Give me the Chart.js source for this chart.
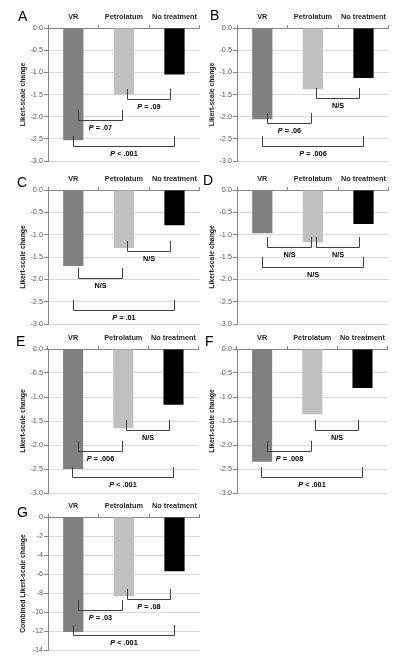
<!DOCTYPE html>
<html>
<head>
<meta charset="utf-8">
<script src="https://cdn.jsdelivr.net/npm/chart.js@4"></script>
<style>
  body { margin: 0; width: 400px; height: 658px; overflow: hidden; background: #fff; position: relative; font-family: "Liberation Sans", Arial, sans-serif; }
  canvas { position: absolute; }
  .letter { position: absolute; font-size: 14px; line-height: 14px; color: #000; }
</style>
</head>
<body>
<script>
// Data
let categories = ["VR", "Petrolatum", "No treatment"];
let barColors = ["#808080", "#c0c0c0", "#000000"];

let valuesA = [-2.53, -1.50, -1.05];
let valuesB = [-2.06, -1.38, -1.13];
let valuesC = [-1.70, -1.30, -0.79];
let valuesD = [-0.97, -1.17, -0.76];
let valuesE = [-2.50, -1.65, -1.16];
let valuesF = [-2.35, -1.36, -0.81];
let valuesG = [-12.1, -8.35, -5.7];

// brackets: [from, to, level, label]
let bracketsA = [[0, 1, -2.07, "P = .07"], [1, 2, -1.60, "P = .09"], [0, 2, -2.66, "P < .001"]];
let bracketsB = [[0, 1, -2.14, "P = .06"], [1, 2, -1.58, "N/S"], [0, 2, -2.66, "P = .006"]];
let bracketsC = [[0, 1, -1.96, "N/S"], [1, 2, -1.36, "N/S"], [0, 2, -2.68, "P = .01"]];
let bracketsD = [[0, 1, -1.28, "N/S"], [1, 2, -1.28, "N/S"], [0, 2, -1.73, "N/S"]];
let bracketsE = [[0, 1, -2.13, "P = .006"], [1, 2, -1.68, "N/S"], [0, 2, -2.67, "P < .001"]];
let bracketsF = [[0, 1, -2.13, "P = .008"], [1, 2, -1.68, "N/S"], [0, 2, -2.67, "P < .001"]];
let bracketsG = [[0, 1, -9.83, "P = .03"], [1, 2, -8.6, "P = .08"], [0, 2, -12.4, "P < .001"]];

let yTitle = "Likert-scale change";
let yTitleG = "Combined Likert-scale change";

// Layout of the panels
let panels = [
    { letter: "A", values: valuesA, brackets: bracketsA, title: yTitle, min: -3, step: 0.5, x: 0, y: 0, w: 201, h: 169, lx: 18, ly: 8.7 },
    { letter: "B", values: valuesB, brackets: bracketsB, title: yTitle, min: -3, step: 0.5, x: 189, y: 0, w: 201, h: 169, lx: 210, ly: 8.2 },
    { letter: "C", values: valuesC, brackets: bracketsC, title: yTitle, min: -3, step: 0.5, x: 0, y: 162, w: 201, h: 170, lx: 17, ly: 174.7 },
    { letter: "D", values: valuesD, brackets: bracketsD, title: yTitle, min: -3, step: 0.5, x: 189, y: 162, w: 201, h: 170, lx: 203, ly: 173.2 },
    { letter: "E", values: valuesE, brackets: bracketsE, title: yTitle, min: -3, step: 0.5, x: 0, y: 321, w: 200, h: 180, lx: 16, ly: 334.2 },
    { letter: "F", values: valuesF, brackets: bracketsF, title: yTitle, min: -3, step: 0.5, x: 189, y: 321, w: 200, h: 180, lx: 205, ly: 334.2 },
    { letter: "G", values: valuesG, brackets: bracketsG, title: yTitleG, min: -14, step: 2, x: 0, y: 489, w: 201, h: 169, lx: 17, ly: 504.7 }
];

// bracket end offsets, as a share of the category width
let bracketOffsets = { "0-1": [0.09, -0.035], "1-2": [0.055, -0.08], "0-2": [-0.015, -0.01] };
let legLen = 10.5;
let labelFont = "7.3px 'Liberation Sans', Arial, sans-serif";

function makeBrackets(list) {
    return {
        id: "brackets",
        afterDatasetsDraw(chart) {
            let ctx = chart.ctx;
            let xs = chart.scales.x;
            let ys = chart.scales.y;
            let step = xs.getPixelForValue(1) - xs.getPixelForValue(0);
            ctx.save();
            ctx.strokeStyle = "#404040";
            ctx.lineWidth = 1;
            ctx.fillStyle = "#000";
            ctx.textBaseline = "middle";
            ctx.textAlign = "left";
            list.forEach(([a, b, level, text]) => {
                let off = bracketOffsets[a + "-" + b];
                let x1 = Math.round(xs.getPixelForValue(a) + off[0] * step) + 0.5;
                let x2 = Math.round(xs.getPixelForValue(b) + off[1] * step) + 0.5;
                let yy = Math.round(ys.getPixelForValue(level)) + 0.5;
                ctx.beginPath();
                ctx.moveTo(x1, yy - legLen);
                ctx.lineTo(x1, yy);
                ctx.lineTo(x2, yy);
                ctx.lineTo(x2, yy - legLen);
                ctx.stroke();

                // label under the bracket, P in italic
                let cx = (x1 + x2) / 2;
                let ly = yy + 7;
                if (text.charAt(0) === "P") {
                    let rest = text.slice(1);
                    ctx.font = "italic bold " + labelFont;
                    let wP = ctx.measureText("P").width;
                    ctx.font = "bold " + labelFont;
                    let wR = ctx.measureText(rest).width;
                    let start = cx - (wP + wR) / 2;
                    ctx.font = "italic bold " + labelFont;
                    ctx.fillText("P", start, ly);
                    ctx.font = "bold " + labelFont;
                    ctx.fillText(rest, start + wP, ly);
                } else {
                    ctx.font = "bold " + labelFont;
                    let w = ctx.measureText(text).width;
                    ctx.fillText(text, cx - w / 2, ly);
                }
            });
            ctx.restore();
        }
    };
}

panels.forEach(p => {
    let canvas = document.createElement("canvas");
    canvas.width = p.w;
    canvas.height = p.h;
    canvas.style.left = p.x + "px";
    canvas.style.top = p.y + "px";
    document.body.appendChild(canvas);

    let letter = document.createElement("div");
    letter.className = "letter";
    letter.textContent = p.letter;
    letter.style.left = p.lx + "px";
    letter.style.top = p.ly + "px";
    document.body.appendChild(letter);

    new Chart(canvas.getContext("2d"), {
        type: "bar",
        data: {
            labels: categories,
            datasets: [{
                data: p.values,
                backgroundColor: barColors,
                borderWidth: 0,
                barPercentage: 0.4,
                categoryPercentage: 1
            }]
        },
        options: {
            responsive: false,
            animation: false,
            layout: { padding: { left: 0, top: 0, right: 0, bottom: 8 } },
            plugins: { legend: { display: false }, tooltip: { enabled: false } },
            scales: {
                x: {
                    position: "top",
                    offset: true,
                    grid: { drawOnChartArea: false, drawTicks: true, tickLength: 3, tickColor: "#868686", offset: true },
                    border: { color: "#868686" },
                    ticks: {
                        color: "#262626",
                        font: { family: "'Liberation Sans', Arial, sans-serif", size: 7.3, weight: "bold" },
                        padding: 4,
                        maxRotation: 0,
                        autoSkip: false
                    },
                    afterFit: s => { s.height = 28; }
                },
                y: {
                    position: "left",
                    min: p.min,
                    max: 0,
                    ticks: {
                        stepSize: p.step,
                        color: "#595959",
                        font: { family: "'Liberation Sans', Arial, sans-serif", size: 7.3 },
                        padding: 1,
                        callback: v => p.step < 1 ? Number(v).toFixed(1) : String(Math.round(v))
                    },
                    grid: {
                        color: c => (c.tick && c.tick.value === 0) ? "#868686" : "#d9d9d9",
                        tickColor: "#868686",
                        tickLength: 4
                    },
                    border: { color: "#868686" },
                    title: {
                        display: true,
                        text: p.title,
                        color: "#1a1a1a",
                        font: { family: "'Liberation Sans', Arial, sans-serif", size: 6.8, weight: "bold" },
                        padding: { top: 19, bottom: 0 }
                    },
                    afterFit: s => { s.width = 48; }
                }
            }
        },
        plugins: [makeBrackets(p.brackets)]
    });
});
</script>
</body>
</html>
